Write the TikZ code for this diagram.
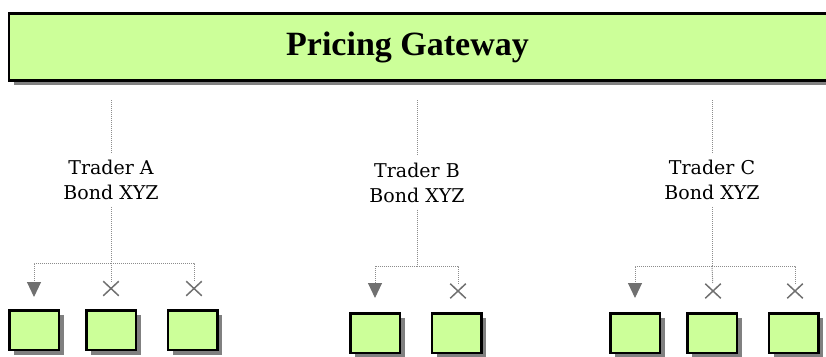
\documentclass[tikz,border=0pt]{standalone}
\usepackage{fontspec}
\newfontfamily\gwfont{Liberation Serif}
\newfontfamily\lblfont{DejaVu Serif}
\usetikzlibrary{arrows.meta,shadows,shapes.misc}
\definecolor{boxgreen}{RGB}{204,255,153}
\definecolor{shadowgray}{RGB}{128,128,128}
\definecolor{dotgray}{RGB}{140,140,140}
\definecolor{tipgray}{RGB}{112,112,112}
\tikzset{
  gwbox/.style={draw=black, line width=2.5pt, fill=boxgreen, inner sep=0pt,
    drop shadow={shadow xshift=5pt, shadow yshift=-5pt, fill=shadowgray, opacity=1}},
  tbox/.style={gwbox, minimum width=49.5pt, minimum height=39.5pt},
  lbl/.style={font=\lblfont\fontsize{19}{25}\selectfont, align=center,
    inner xsep=2pt, inner ysep=7pt, anchor=north},
  dotline/.style={draw=dotgray, line width=1pt, dash pattern=on 1pt off 1pt},
  pick/.style={dotline, -{Triangle[length=15pt,width=14pt,color=tipgray]}},
  xmark/.style={cross out, draw=tipgray, line width=1.5pt, minimum width=14pt,
    minimum height=13pt, inner sep=0pt}
}
\begin{document}
\begin{tikzpicture}[x=1pt,y=-1pt]
\useasboundingbox (0,0) rectangle (826,356);
\clip (0,0) rectangle (826,356);
% gateway
\node[gwbox, minimum width=830.75pt, minimum height=67pt] (gw) at (424.6,46.75) {};
\node[font=\gwfont\bfseries\fontsize{34}{36}\selectfont, anchor=base, inner sep=0pt]
  (gwtext) at (407.5,55) {Pricing Gateway};
% labels
\node[lbl] (lA) at (111,153) {Trader A\\Bond XYZ};
\node[lbl] (lB) at (417,155.5) {Trader B\\Bond XYZ};
\node[lbl] (lC) at (712,153) {Trader C\\Bond XYZ};
% junctions
\coordinate (jA) at (111,263);
\coordinate (jB) at (417,266);
\coordinate (jC) at (712,266);
% boxes
\node[tbox] (bA1) at (34,330) {};
\node[tbox] (bA2) at (111,330) {};
\node[tbox] (bA3) at (192.5,330) {};
\node[tbox] (bB1) at (375,333) {};
\node[tbox] (bB2) at (456.5,333) {};
\node[tbox] (bC1) at (635,333) {};
\node[tbox] (bC2) at (712,333) {};
\node[tbox] (bC3) at (793.5,333) {};
% crosses
\node[xmark] (xA2) at (111,288.5) {};
\node[xmark] (xA3) at (194,288.5) {};
\node[xmark] (xB2) at (458,291) {};
\node[xmark] (xC2) at (713,291) {};
\node[xmark] (xC3) at (795,291) {};
% trunks
\foreach \t in {A,B,C}{
  \draw[dotline, shorten <=18.5pt] (gw.south -| l\t.north) -- (l\t.north);
  \draw[dotline] (l\t.south) -- (j\t);
}
% branches
\draw[pick, shorten >=12pt] (jA) -| (bA1.north);
\draw[dotline] (jA) -- (xA2);
\draw[dotline] (jA) -| (xA3);
\draw[pick, shorten >=14pt] (jB) -| (bB1.north);
\draw[dotline] (jB) -| (xB2);
\draw[pick, shorten >=14pt] (jC) -| (bC1.north);
\draw[dotline] (jC) -- (xC2);
\draw[dotline] (jC) -| (xC3);
\end{tikzpicture}
\end{document}
